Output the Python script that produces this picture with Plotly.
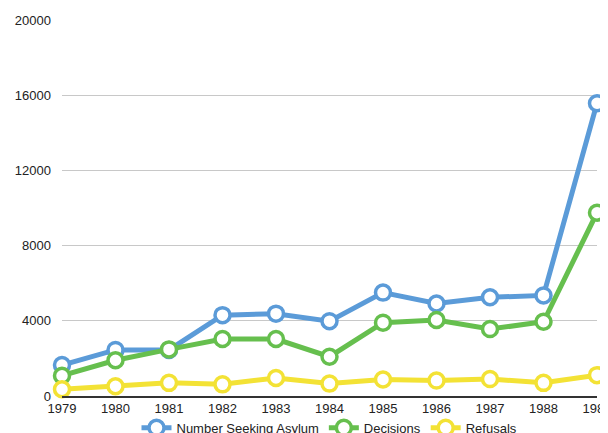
import plotly.graph_objects as go

years = [1979, 1980, 1981, 1982, 1983, 1984, 1985, 1986, 1987, 1988, 1989]
seeking = [1650, 2450, 2450, 4300, 4380, 3980, 5500, 4920, 5250, 5350, 15570]
decisions = [1080, 1900, 2480, 3030, 3030, 2090, 3900, 4040, 3560, 3950, 9750]
refusals = [360, 520, 700, 620, 960, 660, 880, 820, 900, 700, 1110]

series = [
    ("Number Seeking Asylum", seeking, "#5b9bd8"),
    ("Decisions", decisions, "#66bf4e"),
    ("Refusals", refusals, "#f3e235"),
]

fig = go.Figure()
for name, vals, col in series:
    fig.add_trace(go.Scatter(
        x=years, y=vals, name=name, mode="lines+markers",
        line=dict(color=col, width=5),
        marker=dict(size=15, color="white", line=dict(color=col, width=3.5)),
        cliponaxis=False,
    ))

fig.update_layout(
    width=608, height=433,
    margin=dict(l=54, r=19, t=12, b=45, autoexpand=False),
    paper_bgcolor="white", plot_bgcolor="white",
    font=dict(family="Liberation Sans, Arial, sans-serif", size=13, color="#222"),
    showlegend=True,
    legend=dict(orientation="h", x=0.5, xanchor="center", y=-0.045, yanchor="top",
                font=dict(size=13), traceorder="normal", itemwidth=30),
    xaxis=dict(range=[1979, 1989], tickmode="array", tickvals=years,
               showgrid=False, zeroline=False, showline=True,
               linecolor="#333", linewidth=1.5, ticks="", ticklen=0,
               ticklabeloverflow="allow"),
    yaxis=dict(range=[0, 20000], dtick=4000, tickformat="d",
               showgrid=True, gridcolor="#c8c8c8",
               gridwidth=1, zeroline=False, showline=False, ticks="",
               ticklabelstandoff=10),
)

fig.write_html("out.html")
